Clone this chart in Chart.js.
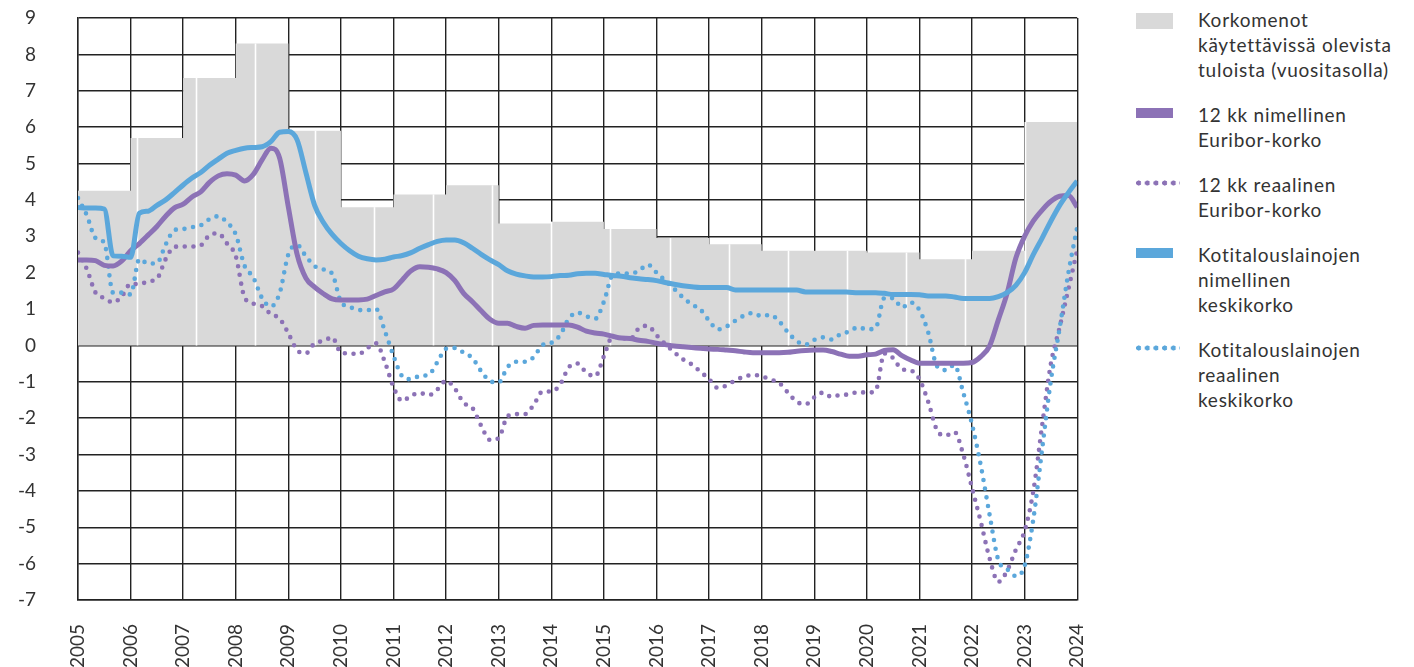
<!DOCTYPE html>
<html>
<head>
<meta charset="utf-8">
<script src="https://cdn.jsdelivr.net/npm/chart.js@4/dist/chart.umd.min.js"></script>
<style>
  body { margin: 0; background: #fff; font-family: Lato, "Open Sans", sans-serif; color: #333; }
  #wrap { position: absolute; left: 0; top: 0; width: 1104px; height: 667px; }
  #legend { position: absolute; left: 1136px; top: 7px; width: 278px; }
  .item { position: relative; padding-left: 62px; font-size: 19px; line-height: 25px; margin-bottom: 20px; letter-spacing: 0.75px; }
  .sw { position: absolute; left: 0; width: 37px; }
  .box { top: 6px; height: 16px; background: #d9d9d9; }
  .bar { top: 6px; height: 10px; }
  .dots { top: 8px; height: 6px; width: 44px; background-size: 8.7px 6px; background-repeat: repeat-x; }
</style>
</head>
<body>
<div id="wrap"><canvas id="chart"></canvas></div>
<div id="legend"></div>
<script>
// vuosittaiset pylväät (korkomenot käytettävissä olevista tuloista)
const barYears = [2005, 2006, 2007, 2008, 2009, 2010, 2011, 2012, 2013, 2014, 2015, 2016, 2017, 2018, 2019, 2020, 2021, 2022, 2023];
const barValues = [4.25, 5.7, 7.35, 8.3, 5.9, 3.8, 4.15, 4.4, 3.35, 3.4, 3.2, 2.95, 2.78, 2.6, 2.6, 2.55, 2.37, 2.6, 6.14];

// kuukausisarjat, joka toinen kuukausi 1/2005 - 1/2024
const euriborNominal = [
  2.35, 2.35, 2.33, 2.2, 2.18, 2.32, 2.6, 2.8, 3.03, 3.27,
  3.55, 3.78, 3.88, 4.08, 4.22, 4.48, 4.66, 4.72, 4.68, 4.52,
  4.7, 5.1, 5.42, 5.15, 3.8, 2.5, 1.85, 1.6, 1.42, 1.28,
  1.25, 1.25, 1.25, 1.27, 1.37, 1.47, 1.55, 1.8, 2.05, 2.16,
  2.15, 2.1, 2.0, 1.78, 1.43, 1.2, 0.95, 0.72, 0.61, 0.61,
  0.52, 0.47, 0.55, 0.56, 0.56, 0.56, 0.56, 0.5, 0.39, 0.34,
  0.31, 0.25, 0.2, 0.19, 0.14, 0.11, 0.06, 0.02, -0.02, -0.04,
  -0.06, -0.08, -0.1, -0.11, -0.13, -0.15, -0.18, -0.2, -0.2, -0.2,
  -0.2, -0.19, -0.16, -0.14, -0.13, -0.13, -0.17, -0.24, -0.3, -0.3,
  -0.26, -0.24, -0.14, -0.12, -0.28, -0.4, -0.49, -0.49, -0.49, -0.49,
  -0.49, -0.49, -0.47, -0.31, -0.02, 0.7, 1.43, 2.4, 3.0, 3.42,
  3.72, 3.96, 4.1, 4.12, 3.8
];
const euriborReal = [
  2.55, 2.1, 1.45, 1.3, 1.18, 1.35, 1.69, 1.68, 1.76, 1.83,
  2.37, 2.71, 2.72, 2.72, 2.75, 3.03, 3.08, 2.8, 2.45, 1.32,
  1.15, 1.08, 0.86, 0.74, 0.33, -0.13, -0.22, 0.06, 0.12, 0.22,
  -0.2, -0.22, -0.24, -0.08, 0.06, -0.45, -1.15, -1.53, -1.38, -1.31,
  -1.37, -1.21, -0.97, -1.19, -1.58, -1.72, -2.21, -2.6, -2.55, -1.95,
  -1.89, -1.89, -1.63, -1.27, -1.27, -1.08, -0.6, -0.5, -0.75, -0.85,
  -0.3, 0.24, 0.2, 0.18, 0.47, 0.54, 0.28, 0.04, -0.18, -0.38,
  -0.52, -0.72, -0.93, -1.17, -1.1, -0.96, -0.86, -0.81, -0.85, -0.94,
  -1.03, -1.3, -1.55, -1.62, -1.43, -1.3, -1.42, -1.36, -1.35, -1.28,
  -1.3, -1.25, -0.22, -0.35, -0.66, -0.69, -0.93, -1.55, -2.33, -2.48,
  -2.38, -3.0, -3.92, -4.85, -5.85, -6.5, -6.2, -5.62, -5.1, -4.0,
  -2.2, -0.5, 0.5, 1.55, 2.62
];
const loanNominal = [
  3.79, 3.78, 3.78, 3.75, 2.46, 2.45, 2.42, 3.63, 3.69, 3.85,
  4.0, 4.2, 4.41, 4.6, 4.75, 4.95, 5.12, 5.28, 5.36, 5.42,
  5.44, 5.46, 5.6, 5.86, 5.88, 5.65, 4.75, 3.85, 3.38, 3.05,
  2.8, 2.6, 2.45, 2.38, 2.35, 2.37, 2.43, 2.47, 2.55, 2.67,
  2.77, 2.86, 2.9, 2.9, 2.82, 2.67, 2.5, 2.35, 2.22, 2.05,
  1.96, 1.91, 1.88, 1.88, 1.89, 1.92, 1.93, 1.97, 1.98, 1.98,
  1.95, 1.92, 1.9, 1.86, 1.83, 1.81, 1.78, 1.73, 1.68, 1.64,
  1.61, 1.59, 1.59, 1.59, 1.59, 1.52, 1.52, 1.52, 1.52, 1.52,
  1.52, 1.52, 1.52, 1.47, 1.47, 1.47, 1.47, 1.47, 1.46, 1.45,
  1.45, 1.45, 1.43, 1.4, 1.4, 1.4, 1.39, 1.36, 1.36, 1.36,
  1.33, 1.29, 1.29, 1.29, 1.29, 1.34, 1.45, 1.65, 2.0, 2.5,
  2.95, 3.42, 3.85, 4.2, 4.52
];
const loanReal = [
  4.05, 3.58, 2.95, 2.82, 1.45, 1.45, 1.4, 2.37, 2.25, 2.26,
  2.77, 3.17, 3.2, 3.25, 3.3, 3.47, 3.55, 3.38, 3.05, 2.19,
  1.87, 1.3, 1.07, 1.43, 2.5, 2.76, 2.45, 2.18, 2.09, 1.97,
  1.2, 1.06, 0.97, 0.97, 1.0, 0.4, -0.29, -0.85, -0.93, -0.84,
  -0.81, -0.46, -0.09, -0.07, -0.2, -0.35, -0.71, -0.98, -1.02, -0.6,
  -0.45, -0.45, -0.32, 0.01, 0.07, 0.28, 0.74, 0.9, 0.8, 0.73,
  1.2, 1.93, 1.98, 1.97, 2.05, 2.22, 2.0, 1.78, 1.56, 1.32,
  1.13, 0.99, 0.68, 0.44, 0.52, 0.68, 0.82, 0.89, 0.8, 0.84,
  0.66, 0.36, 0.12, 0.02, 0.15, 0.22, 0.16, 0.31, 0.38, 0.5,
  0.44, 0.48, 1.3, 1.3, 1.04, 1.18, 0.97, 0.36, -0.57, -0.68,
  -0.54, -1.3, -2.17, -3.3, -4.65, -5.9, -6.15, -6.34, -6.06, -4.77,
  -2.85, -0.96, 0.48, 2.0, 3.25
];

const yearTicks = { min: 2005, max: 2024 };
const valueTicks = { min: -7, max: 9 };

const seriesNames = [
  'Korkomenot käytettävissä olevista tuloista (vuositasolla)',
  '12 kk nimellinen Euribor-korko',
  '12 kk reaalinen Euribor-korko',
  'Kotitalouslainojen nimellinen keskikorko',
  'Kotitalouslainojen reaalinen keskikorko'
];
const legendLines = [
  ['Korkomenot', 'käytettävissä olevista', 'tuloista (vuositasolla)'],
  ['12 kk nimellinen', 'Euribor-korko'],
  ['12 kk reaalinen', 'Euribor-korko'],
  ['Kotitalouslainojen', 'nimellinen', 'keskikorko'],
  ['Kotitalouslainojen', 'reaalinen', 'keskikorko']
];

const PURPLE = '#8c72b6';
const BLUE = '#5ba7db';
const GREY = '#d9d9d9';
const GRID = '#222';

// x-arvot kuukausisarjoille
const lineX = euriborNominal.map((_, i) => yearTicks.min + i / 6);
const toPoints = arr => arr.map((v, i) => ({ x: lineX[i], y: v }));

// porrasalue vuosipylväistä, viimeinen arvo jatkuu vuoden loppuun
const barPoints = barYears.map((y, i) => ({ x: y, y: barValues[i] }));
barPoints.push({ x: yearTicks.max, y: barValues[barValues.length - 1] });

// alkuperäisessä kuvassa harmaissa pylväissä on ohuet valkoiset raot 13,5 kk välein
const gapStep = 1.125;
const barGaps = {
  id: 'barGaps',
  afterDatasetDraw(chart, args) {
    if (args.index !== 4) return;
    const { ctx, scales: { x, y } } = chart;
    ctx.save();
    ctx.strokeStyle = '#fff';
    ctx.lineWidth = 1.6;
    for (let t = yearTicks.min + gapStep; t < yearTicks.max - 0.5; t += gapStep) {
      const idx = Math.min(Math.floor(t - yearTicks.min + 1e-6), barValues.length - 1);
      const px = Math.round(x.getPixelForValue(t)) + 0.5;
      ctx.beginPath();
      ctx.moveTo(px, y.getPixelForValue(0));
      ctx.lineTo(px, y.getPixelForValue(barValues[idx]));
      ctx.stroke();
    }
    ctx.restore();
  }
};

const dotted = { borderDash: [0, 8.7], borderCapStyle: 'round', borderWidth: 4.6 };

new Chart(document.getElementById('chart'), {
  type: 'line',
  data: {
    datasets: [
      {
        label: seriesNames[3], data: toPoints(loanNominal), borderColor: BLUE,
        borderWidth: 5, order: 1
      },
      {
        label: seriesNames[1], data: toPoints(euriborNominal), borderColor: PURPLE,
        borderWidth: 5, order: 2
      },
      Object.assign({ label: seriesNames[4], data: toPoints(loanReal), borderColor: BLUE, order: 3 }, dotted),
      Object.assign({ label: seriesNames[2], data: toPoints(euriborReal), borderColor: PURPLE, order: 4 }, dotted),
      {
        label: seriesNames[0], data: barPoints, stepped: true, fill: 'origin',
        backgroundColor: GREY, borderWidth: 0, borderColor: 'rgba(0,0,0,0)', order: 10,
        cubicInterpolationMode: 'default'
      }
    ]
  },
  options: {
    responsive: true,
    maintainAspectRatio: false,
    animation: false,
    layout: { padding: { top: 18, right: 0, left: 0, bottom: 0 } },
    elements: {
      point: { radius: 0, hoverRadius: 0 },
      line: { cubicInterpolationMode: 'monotone', borderJoinStyle: 'round', fill: false }
    },
    plugins: { legend: { display: false }, tooltip: { enabled: false } },
    scales: {
      x: {
        type: 'linear', min: yearTicks.min, max: yearTicks.max,
        grid: { color: GRID, lineWidth: 1.4, drawTicks: true, tickLength: 20, tickColor: 'rgba(0,0,0,0)' },
        border: { color: GRID, width: 1.4 },
        ticks: {
          stepSize: 1, autoSkip: false, minRotation: 90, maxRotation: 90, padding: 4,
          color: '#333', font: { family: 'Lato', size: 19 },
          callback: v => String(v)
        },
        afterFit: s => { s.height = 67; }
      },
      y: {
        min: valueTicks.min, max: valueTicks.max,
        grid: { color: GRID, lineWidth: 1.4, drawTicks: true, tickLength: 38, tickColor: 'rgba(0,0,0,0)' },
        border: { color: GRID, width: 1.4 },
        ticks: {
          stepSize: 1, padding: 4, color: '#333', font: { family: 'Lato', size: 19 },
          callback: v => String(v)
        },
        afterFit: s => { s.width = 78; }
      }
    }
  },
  plugins: [barGaps]
});

// selite
const swatches = [
  '<div class="sw box"></div>',
  '<div class="sw bar" style="background:' + PURPLE + '"></div>',
  '<div class="sw dots" style="background-image:radial-gradient(circle at 2.6px 3px,' + PURPLE + ' 2.3px, rgba(0,0,0,0) 2.8px)"></div>',
  '<div class="sw bar" style="background:' + BLUE + '"></div>',
  '<div class="sw dots" style="background-image:radial-gradient(circle at 2.6px 3px,' + BLUE + ' 2.3px, rgba(0,0,0,0) 2.8px)"></div>'
];
document.getElementById('legend').innerHTML = legendLines.map((lines, i) =>
  '<div class="item">' + swatches[i] + lines.join('<br>') + '</div>').join('');
</script>
</body>
</html>
